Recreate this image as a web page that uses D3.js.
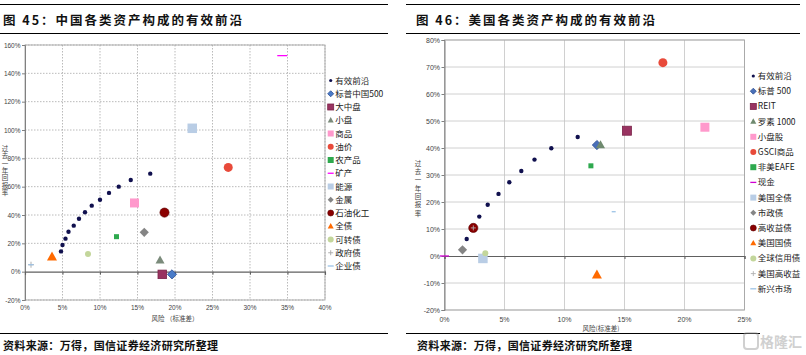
<!DOCTYPE html>
<html><head><meta charset="utf-8">
<script src="https://cdn.jsdelivr.net/npm/d3@7"></script>
<style>body{margin:0;background:#fff}svg{display:block}</style>
</head><body>
<svg id="c" width="806" height="355"></svg>
<script>
// ---------- DATA ----------
const leftTitle = "图 45：中国各类资产构成的有效前沿";
const rightTitle = "图 46：美国各类资产构成的有效前沿";
const sourceText = "资料来源：万得，国信证券经济研究所整理";
const yTitle = "过去一年回报率";

// China frontier (risk %, return %)
const cnFrontierRisk = [4.8,5.0,5.4,5.8,6.5,7.2,8.0,8.9,10.0,11.2,12.5,14.1,16.7];
const cnFrontierRet  = [14.3,18.8,23.3,28.2,32.5,37.4,41.9,46.6,50.8,55.6,60.0,64.7,69.2];
const cnAssets    = ["标普中国500","大中盘","小盘","商品","油价","农产品","矿产","能源","金属","石油化工","全债","可转债","政府债","企业债"];
const cnAssetRisk = [19.6,18.3,18.0,14.6,27.1,12.2,34.3,22.3,15.9,18.6,3.6,8.4,0.8,0.8];
const cnAssetRet  = [-1.9,-1.9,8.0,48.5,73.6,24.7,152.5,101.2,27.8,41.7,10.4,12.5,4.9,4.9];
const cnXTicks = [0,5,10,15,20,25,30,35,40];
const cnYTicks = [-20,0,20,40,60,80,100,120,140,160];

// US frontier
const usFrontierRisk = [1.85,2.9,3.6,4.5,5.4,6.4,7.5,8.9,11.1];
const usFrontierRet  = [6.3,14.6,19.0,23.0,27.3,31.5,35.7,39.9,44.1];
const usAssets    = ["标普 500","REIT","罗素 1000","小盘股","GSCI商品","非美EAFE","现金","美国全债","市政债","高收益债","美国国债","全球信用债","美国高收益","新兴市场"];
const usAssetRisk = [12.7,15.2,13.0,21.7,18.2,12.2,0.0,3.2,1.5,2.4,12.7,3.4,2.4,14.1];
const usAssetRet  = [41.1,46.4,41.1,47.7,71.6,33.4,0.0,-0.9,2.3,10.4,-7.0,1.0,10.4,16.4];
const usXTicks = [0,5,10,15,20,25];
const usYTicks = [-20,-10,0,10,20,30,40,50,60,70,80];

// ---------- STYLES ----------
const frontierStyle = {shape:"circle", color:"#10104e", size:2.2};
const cnStyles = [
  {shape:"diamond", color:"#4a7bc8", stroke:"#2c4f93", size:4.6},
  {shape:"square", color:"#993361", stroke:"#7a2248", size:8.5},
  {shape:"triangle", color:"#7b8b7b", size:9},
  {shape:"square", color:"#ff99cc", size:9},
  {shape:"circle", color:"#e84a3a", size:4.5},
  {shape:"square", color:"#2ea94e", size:5},
  {shape:"dash", color:"#ff00ff", size:10},
  {shape:"square", color:"#b9cde5", size:9.5},
  {shape:"diamond", color:"#858585", size:4.6},
  {shape:"circle", color:"#8b0000", stroke:"#5a0000", size:4.6},
  {shape:"triangle", color:"#ff6a00", size:10},
  {shape:"circle", color:"#c3d69b", size:3},
  {shape:"plus", color:"#a6a6a6", size:6},
  {shape:"dash", color:"#9dc3e6", size:5}
];
const usStyles = [
  {shape:"diamond", color:"#4a6fb8", stroke:"#2c4f93", size:4.6},
  {shape:"square", color:"#993361", stroke:"#7a2248", size:9},
  {shape:"triangle", color:"#6f8a6f", size:9},
  {shape:"square", color:"#ff99cc", size:9},
  {shape:"circle", color:"#e84a3a", size:4.5},
  {shape:"square", color:"#2ea94e", size:5},
  {shape:"dash", color:"#d000d0", size:9},
  {shape:"square", color:"#b9cde5", size:9.5},
  {shape:"diamond", color:"#858585", size:4.6},
  {shape:"circle", color:"#8b0000", stroke:"#5a0000", size:4.6},
  {shape:"triangle", color:"#ff6a00", size:10},
  {shape:"circle", color:"#c3d69b", size:3},
  {shape:"plus", color:"#b0b0b0", size:5},
  {shape:"dash", color:"#9dc3e6", size:4}
];

const svg = d3.select("#c");
const CJK = "'Noto Sans CJK SC','Noto Sans',sans-serif";
const LAT = "'Liberation Sans',Arial,sans-serif";

function drawMarker(g, x, y, st, scale) {
  const s = st.size * (scale||1);
  if (st.shape === "circle") {
    g.append("circle").attr("cx", x).attr("cy", y).attr("r", s)
      .attr("fill", st.color).attr("stroke", st.stroke || "none").attr("stroke-width", 0.6);
  } else if (st.shape === "square") {
    g.append("rect").attr("x", x - s/2).attr("y", y - s/2).attr("width", s).attr("height", s)
      .attr("fill", st.color).attr("stroke", st.stroke || "none").attr("stroke-width", 0.8);
  } else if (st.shape === "diamond") {
    g.append("path").attr("d", `M${x},${y-s}L${x+s},${y}L${x},${y+s}L${x-s},${y}Z`)
      .attr("fill", st.color).attr("stroke", st.stroke || "none").attr("stroke-width", 0.8);
  } else if (st.shape === "triangle") {
    const h = s * 0.9;
    g.append("path").attr("d", `M${x},${y-h*0.6}L${x+s/2},${y+h*0.4}L${x-s/2},${y+h*0.4}Z`)
      .attr("fill", st.color);
  } else if (st.shape === "dash") {
    g.append("line").attr("x1", x - s/2).attr("x2", x + s/2).attr("y1", y).attr("y2", y)
      .attr("stroke", st.color).attr("stroke-width", 1.3);
  } else if (st.shape === "plus") {
    g.append("path").attr("d", `M${x-s/2},${y}H${x+s/2}M${x},${y-s/2}V${y+s/2}`)
      .attr("stroke", st.color).attr("stroke-width", 0.9).attr("fill", "none");
  }
}

function header(x0, x1, tx, title) {
  svg.append("line").attr("x1", x0).attr("x2", x1).attr("y1", 4.5).attr("y2", 4.5).attr("stroke", "#000").attr("stroke-width", 1.2);
  svg.append("line").attr("x1", x0).attr("x2", x1).attr("y1", 33.5).attr("y2", 33.5).attr("stroke", "#000").attr("stroke-width", 1);
  svg.append("text").attr("x", tx).attr("y", 24.5).attr("font-family", CJK).attr("font-weight", "bold")
    .attr("font-size", 12.5).attr("textLength", 239).attr("lengthAdjust", "spacing").attr("fill", "#111").text(title);
}
function footer(x0, x1, tx) {
  svg.append("line").attr("x1", x0).attr("x2", x1).attr("y1", 333.5).attr("y2", 333.5).attr("stroke", "#000").attr("stroke-width", 1);
  svg.append("text").attr("x", tx).attr("y", 350).attr("font-family", CJK).attr("font-weight", "bold")
    .attr("font-size", 11).attr("textLength", 215).attr("lengthAdjust", "spacing").attr("fill", "#111").text(sourceText);
}

function chart(cfg) {
  const g = svg.append("g");
  const x = d3.scaleLinear().domain(cfg.xDom).range(cfg.xRange);
  const y = d3.scaleLinear().domain(cfg.yDom).range(cfg.yRange);
  const [xl, xr] = cfg.xRange, [yb, yt] = cfg.yRange;
  // grid
  g.selectAll(".vg").data(cfg.xTicks.slice(1)).join("line")
    .attr("x1", d => x(d)).attr("x2", d => x(d)).attr("y1", yt).attr("y2", yb)
    .attr("stroke", cfg.gridColor).attr("stroke-width", 0.8).attr("stroke-dasharray", cfg.dash);
  g.selectAll(".hg").data(cfg.yTicks.filter(d => d !== 0)).join("line")
    .attr("x1", xl).attr("x2", xr).attr("y1", d => y(d)).attr("y2", d => y(d))
    .attr("stroke", cfg.gridColor).attr("stroke-width", 0.8).attr("stroke-dasharray", cfg.dash);
  // border
  g.append("rect").attr("x", xl).attr("y", yt).attr("width", xr - xl).attr("height", yb - yt)
    .attr("fill", "none").attr("stroke", "#a6a6a6").attr("stroke-width", 0.9);
  // y axis
  const ya = d3.axisLeft(y).tickValues(cfg.yTicks).tickSize(3).tickFormat(d => d + "%");
  const yg = g.append("g").attr("transform", `translate(${xl},0)`).call(ya);
  yg.select(".domain").attr("stroke", "#808080");
  yg.selectAll(".tick line").attr("stroke", "#808080");
  yg.selectAll("text").attr("font-family", LAT).attr("font-size", cfg.tickFs).attr("fill", "#444").attr("x", -4.5);
  // zero line with x tick marks
  const xa = d3.axisBottom(x).tickValues(cfg.xTicks).tickSize(3).tickFormat("");
  const xg = g.append("g").attr("transform", `translate(0,${y(0)})`).call(xa);
  xg.select(".domain").attr("stroke", "#606060").attr("stroke-width", 1.1);
  xg.selectAll(".tick line").attr("stroke", "#606060");
  // x labels at bottom
  g.selectAll(".xl").data(cfg.xTicks).join("text")
    .attr("x", d => x(d)).attr("y", cfg.xLabelY).attr("text-anchor", "middle")
    .attr("font-family", LAT).attr("font-size", cfg.tickFs).attr("fill", "#444").text(d => d + "%");
  // x title
  g.append("text").attr("x", cfg.xTitleX).attr("y", cfg.xTitleY).attr("text-anchor", "middle")
    .attr("font-family", CJK).attr("font-size", cfg.titleFs).attr("fill", "#444").text(cfg.xTitle);
  // y title (vertical, upright characters)
  g.append("text").attr("x", cfg.yTitleX).attr("y", cfg.yTitleY)
    .style("writing-mode", "vertical-rl").style("text-orientation", "upright")
    .attr("font-family", CJK).attr("font-size", cfg.titleFs).attr("letter-spacing", cfg.yTitleSp)
    .attr("fill", "#444").text(yTitle);
  // assets
  cfg.assets.forEach((nm, i) => drawMarker(g, x(cfg.aRisk[i]), y(cfg.aRet[i]), cfg.styles[i]));
  // frontier
  cfg.fRisk.forEach((r, i) => drawMarker(g, x(r), y(cfg.fRet[i]), frontierStyle));
  // legend
  const names = ["有效前沿"].concat(cfg.assets);
  const styles = [frontierStyle].concat(cfg.styles);
  names.forEach((nm, i) => {
    const ly = cfg.legY + i * cfg.legStep;
    const st = styles[i];
    const ls = Object.assign({}, st);
    if (st.shape === "circle") ls.size = i === 0 ? 1.6 : 3;
    else if (st.shape === "square") ls.size = 6;
    else if (st.shape === "diamond") ls.size = 3;
    else if (st.shape === "triangle") ls.size = 6;
    else if (st.shape === "dash") ls.size = 6;
    else if (st.shape === "plus") ls.size = 5;
    drawMarker(g, cfg.legX, ly, ls);
    g.append("text").attr("x", cfg.legX + 4.5).attr("y", ly + 3).attr("font-family", CJK)
      .attr("font-size", 8.5).attr("fill", "#222").text(nm);
  });
}

header(0, 388, 3, leftTitle);
header(406, 800, 416, rightTitle);

chart({
  xDom: [0, 40], xRange: [25, 325], yDom: [-20, 160], yRange: [300, 45],
  xTicks: cnXTicks, yTicks: cnYTicks, gridColor: "#a8a8a8", dash: "1.5,1.5",
  tickFs: 6.5, xLabelY: 310, xTitle: "风险 （标准差）", xTitleX: 175, xTitleY: 321, titleFs: 6.5,
  yTitleX: 5, yTitleY: 145, yTitleSp: 0.9,
  assets: cnAssets, aRisk: cnAssetRisk, aRet: cnAssetRet, styles: cnStyles,
  fRisk: cnFrontierRisk, fRet: cnFrontierRet,
  legX: 330.7, legY: 80.5, legStep: 13.25
});

chart({
  xDom: [0, 25], xRange: [444.5, 744.5], yDom: [-20, 80], yRange: [310, 40],
  xTicks: usXTicks, yTicks: usYTicks, gridColor: "#c4c4c4", dash: null,
  tickFs: 7, xLabelY: 322, xTitle: "风险(标准差)", xTitleX: 601, xTitleY: 331, titleFs: 6.5,
  yTitleX: 418, yTitleY: 160, yTitleSp: 1.8,
  assets: usAssets, aRisk: usAssetRisk, aRet: usAssetRet, styles: usStyles,
  fRisk: usFrontierRisk, fRet: usFrontierRet,
  legX: 753.3, legY: 76, legStep: 15.2
});

footer(0, 388, 3);
footer(406, 760, 417);

// watermark
const wm = svg.append("g").attr("opacity", 0.45);
wm.append("rect").attr("x", 744).attr("y", 333).attr("width", 14).attr("height", 16).attr("rx", 3)
  .attr("fill", "none").attr("stroke", "#999").attr("stroke-width", 2);
wm.append("text").attr("x", 760).attr("y", 347).attr("font-family", CJK).attr("font-weight", "bold")
  .attr("font-size", 14).attr("fill", "#999").text("格隆汇");
</script>
</body></html>
